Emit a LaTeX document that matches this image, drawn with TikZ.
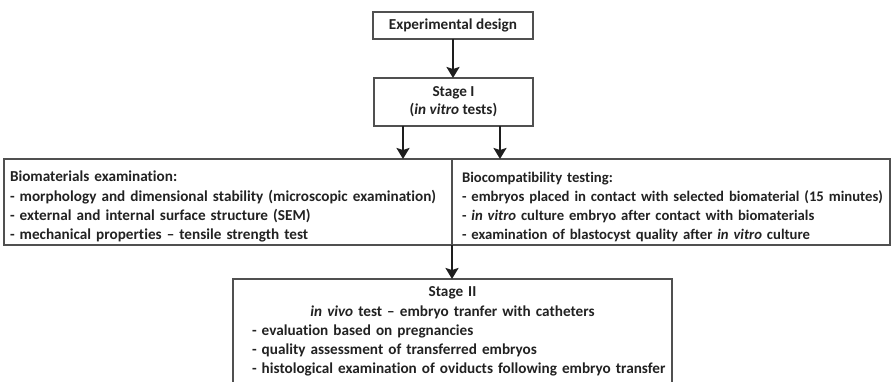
\documentclass[tikz,border=0pt]{standalone}
\usepackage{fontspec}
\setmainfont{Carlito}[Ligatures=NoCommon]
\usetikzlibrary{arrows.meta}
\definecolor{boxc}{HTML}{505050}
\definecolor{arrc}{HTML}{1E1E1E}
\definecolor{txtc}{HTML}{222222}
\newcommand{\topstrut}{\rule{0pt}{20pt}}
\begin{document}
\begin{tikzpicture}[x=1pt,y=-1pt,
  font=\fontsize{15.2}{19.2}\selectfont\bfseries,
  box/.style={draw=boxc, line width=1.2pt, rectangle, outer sep=0pt, text=txtc},
  arr/.style={draw=arrc, line width=2pt, -{Stealth[length=11pt,width=13pt,inset=2pt]}}]
\clip (0,0) rectangle (892,382);
\useasboundingbox (0,0) rectangle (892,382);
\fill[white] (0,0) rectangle (892,382);

\node[box, minimum width=160pt, minimum height=27pt, inner sep=0pt] (exp) at (453,25.5) {Experimental design};
\node[box, minimum width=159pt, minimum height=48pt, inner sep=0pt, align=center, font=\fontsize{15.2}{18}\selectfont\bfseries] (s1) at (453.5,102) {Stage I\\(\textit{in vitro} tests)};

\node[box, anchor=north west, minimum width=448pt, minimum height=86pt, inner xsep=6pt, inner ysep=0pt,
  text width=436pt, align=left] (bio) at (4,159) {\topstrut\mbox{Biomaterials examination:}\\
\mbox{- morphology and dimensional stability (microscopic examination)}\\
\mbox{- external and internal surface structure (SEM)}\\
\mbox{- mechanical properties -- tensile strength test}};

\node[box, anchor=north west, minimum width=438pt, minimum height=86pt, inner xsep=10pt, inner ysep=0pt,
  text width=418pt, align=left, font=\fontsize{14.7}{19.2}\selectfont\bfseries] (comp) at (452,159) {\topstrut\mbox{Biocompatibility testing:}\\
\mbox{- embryos placed in contact with selected biomaterial (15 minutes)}\\
\mbox{- \textit{in vitro} culture embryo after contact with biomaterials}\\
\mbox{- examination of blastocyst quality after \textit{in vitro} culture}};

\node[box, anchor=north, minimum width=439pt, inner xsep=6pt, inner ysep=8pt,
  text width=427pt, align=center] (s2) at (452.5,279) {Stage II\\
\textit{in vivo} test -- embryo tranfer with catheters\\
\makebox[427pt][l]{\hspace*{13pt}- evaluation based on pregnancies}\\
\makebox[427pt][l]{\hspace*{13pt}- quality assessment of transferred embryos}\\
\makebox[427pt][l]{\hspace*{13pt}- histological examination of oviducts following embryo transfer}\\
\mbox{}};

\draw[arr] (exp.south) -- (exp.south |- s1.north);
\draw[arr] ([xshift=-50.5pt]s1.south) coordinate (a1) -- (a1 |- bio.north);
\draw[arr] ([xshift=46.5pt]s1.south) coordinate (a2) -- (a2 |- comp.north);
\draw[arr] (comp.south west) -- (comp.south west |- s2.north);
\end{tikzpicture}
\end{document}
